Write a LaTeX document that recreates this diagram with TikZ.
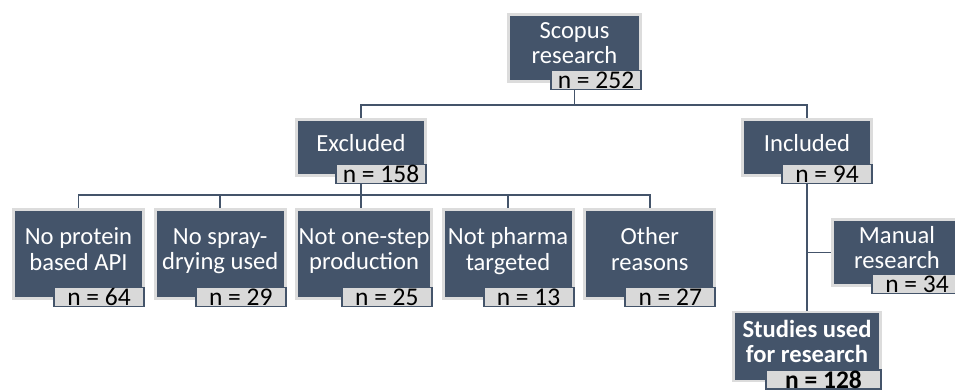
\documentclass[tikz,border=0pt]{standalone}
\usepackage{fontspec}
\setmainfont{Carlito}
\usepackage{xcolor}
\usetikzlibrary{positioning, backgrounds}

\definecolor{slate}{HTML}{44546A}
\definecolor{rimgray}{HTML}{DCDCDC}
\definecolor{tabgray}{HTML}{D9D9D9}

\begin{document}
\begin{tikzpicture}[
    box/.style={draw=rimgray, line width=1.7pt, fill=slate, text=white,
                minimum width=2.6cm, minimum height=1.78cm, inner sep=1pt,
                text depth=0.2cm, align=center, font=\fontsize{14}{14.5}\selectfont},
    count/.style={draw=slate, line width=1.1pt, fill=tabgray, text=black,
                  minimum width=1.8cm, minimum height=0.38cm, inner sep=0pt,
                  anchor=east, font=\fontsize{14.5}{15}\selectfont},
    link/.style={draw=slate, line width=1.1pt}
]
\useasboundingbox (0,0) rectangle (19.1,7.78);

% top levels
\node[box, minimum width=2.64cm, minimum height=1.34cm] (scopus) at (11.49,6.82) {Scopus\\research};
\node[count] (scopus-n) at ([yshift=0.06cm]scopus.south east) {n = 252};

\node[box, minimum width=2.58cm, minimum height=1.12cm] (excluded) at (7.22,4.83) {Excluded};
\node[count] (excluded-n) at ([yshift=0.06cm]excluded.south east) {n = 158};

\node[box, minimum width=2.58cm, minimum height=1.12cm] (included) at (16.14,4.83) {Included};
\node[count] (included-n) at ([yshift=0.06cm]included.south east) {n = 94};

% reasons for exclusion
\node[box] (protein) at (1.57,2.70) {No protein\\based API};
\node[count] (protein-n) at ([yshift=0.06cm]protein.south east) {n = 64};

\node[box, right=0.175cm of protein] (spray) {No spray-\\drying used};
\node[count] (spray-n) at ([yshift=0.06cm]spray.south east) {n = 29};

\node[box, right=0.175cm of spray] (onestep) {Not one-step\\production};
\node[count] (onestep-n) at ([yshift=0.06cm]onestep.south east) {n = 25};

\node[box, right=0.175cm of onestep] (pharma) {Not pharma\\targeted};
\node[count] (pharma-n) at ([yshift=0.06cm]pharma.south east) {n = 13};

\node[box, right=0.175cm of pharma] (other) {Other\\reasons};
\node[count] (other-n) at ([yshift=0.06cm]other.south east) {n = 27};

% included side
\node[box, minimum width=2.58cm, minimum height=1.32cm] (manual) at (17.94,2.73) {Manual\\research};
\node[count] (manual-n) at ([yshift=0.06cm]manual.south east) {n = 34};

\node[box, minimum width=2.94cm, minimum height=1.38cm,
      font=\fontsize{14}{14.5}\selectfont\bfseries] (studies) at (16.14,0.85) {Studies used\\for research};
\node[count, minimum width=2.3cm, font=\fontsize{14.5}{15}\selectfont\bfseries]
      (studies-n) at ([yshift=0.06cm]studies.south east) {n = 128};

\begin{scope}[on background layer]
\draw[link] (scopus) -- ++(0,-1.14) -| (excluded);
\draw[link] (scopus) -- ++(0,-1.14) -| (included);

\draw[link] (excluded) -- ++(0,-0.95) -| (protein);
\draw[link] (excluded) -- ++(0,-0.95) -| (spray);
\draw[link] (excluded) -- (excluded |- onestep.north);
\draw[link] (excluded) -- ++(0,-0.95) -| (pharma);
\draw[link] (excluded) -- ++(0,-0.95) -| (other);

\draw[link] (included) -- (studies);
\draw[link] (manual) -- (manual -| included);
\end{scope}
\end{tikzpicture}
\end{document}
